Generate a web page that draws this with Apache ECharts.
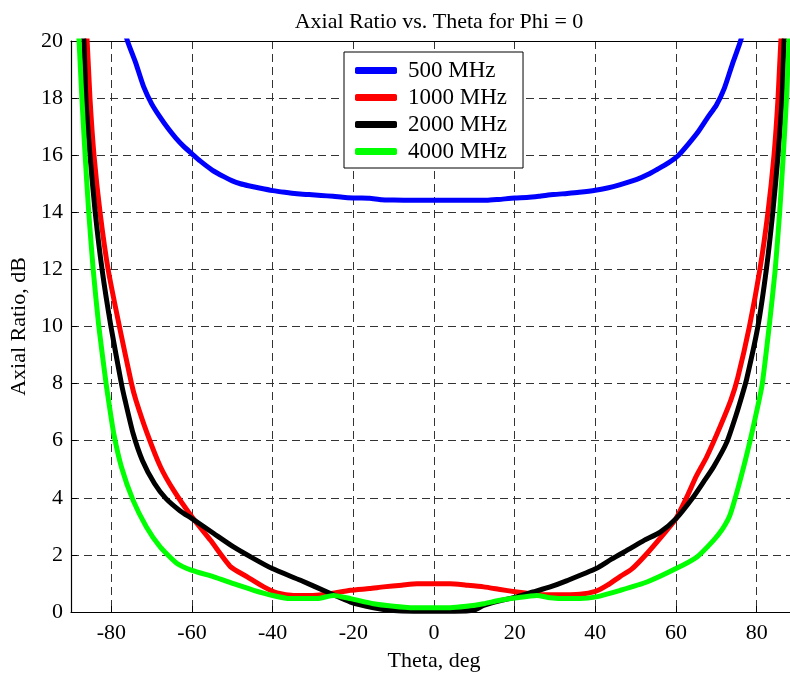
<!DOCTYPE html>
<html>
<head>
<meta charset="utf-8">
<script src="https://cdn.jsdelivr.net/npm/echarts@6/dist/echarts.min.js"></script>
<style>
html,body{margin:0;padding:0;background:#fff;}
#chart{width:790px;height:677px;}
</style>
</head>
<body>
<div id="chart"></div>
<script>
// ---- data ----
const titleText = 'Axial Ratio vs. Theta for Phi = 0';
const xName = 'Theta, deg';
const yName = 'Axial Ratio, dB';
const seriesNames = ['500 MHz', '1000 MHz', '2000 MHz', '4000 MHz'];
const seriesColors = ['#0000ff', '#ff0000', '#000000', '#00ff00'];
const xTicks = [-80, -60, -40, -20, 0, 20, 40, 60, 80];

const theta500 = [-77.5, -76, -74, -72, -70, -68, -66, -64, -62, -60, -58, -55, -52, -50, -48, -46, -43, -40, -37, -34, -31, -28, -25, -22, -19, -16, -13, -10, -5, 0, 5, 10, 13, 16, 20, 23, 26, 29.6, 33, 36, 40, 43, 46, 50.3, 53, 55.3, 58, 60.5, 63, 65.5, 68, 70, 72, 74, 76, 77.5];
const ar500 = [20.8, 20.0, 19.25, 18.4, 17.8, 17.35, 16.95, 16.6, 16.3, 16.05, 15.8, 15.48, 15.24, 15.1, 15.0, 14.93, 14.84, 14.76, 14.7, 14.65, 14.62, 14.59, 14.56, 14.52, 14.5, 14.49, 14.44, 14.43, 14.42, 14.42, 14.42, 14.42, 14.42, 14.45, 14.5, 14.52, 14.56, 14.62, 14.66, 14.7, 14.77, 14.85, 14.96, 15.15, 15.32, 15.5, 15.72, 15.98, 16.38, 16.82, 17.35, 17.75, 18.35, 19.2, 20.0, 20.8];

const theta1000 = [-88, -86.0, -85.3, -84.3, -82.8, -80.8, -78.0, -75.0, -73.9, -71.1, -67.8, -64.5, -60, -55.4, -50.4, -46.3, -42.2, -38.9, -34.8, -30, -26.5, -20.7, -16, -12.5, -8, -4.2, 0, 4, 8, 12.3, 16, 20.5, 24, 27.2, 30, 36.2, 40, 43, 46.2, 49, 52.8, 57.7, 60, 62.7, 65, 67.6, 70.9, 73.6, 75.3, 78.2, 80.8, 82.8, 84.3, 85.3, 86.0, 88];
const ar1000 = [24, 20, 18, 16, 14, 12, 10, 8, 7.42, 6.25, 5.08, 4.25, 3.33, 2.51, 1.58, 1.23, 0.88, 0.67, 0.58, 0.58, 0.62, 0.76, 0.82, 0.88, 0.94, 0.99, 0.99, 0.99, 0.94, 0.88, 0.8, 0.70, 0.64, 0.6, 0.6, 0.62, 0.72, 0.94, 1.25, 1.5, 2.05, 2.86, 3.27, 4.03, 4.75, 5.43, 6.48, 7.42, 8.2, 10, 12, 14, 16, 18, 20, 24];

const theta2000 = [-88.5, -86.8, -86.3, -85.3, -84.0, -82.3, -80.1, -77.5, -76.6, -74.6, -72.3, -69.3, -66.5, -63, -60, -54.6, -49.7, -44.7, -40.1, -33.1, -26.5, -20.7, -15, -10, -5, 0, 5, 10, 12.3, 16, 20.5, 24.5, 28.8, 33, 40.2, 44, 48.6, 52, 56.1, 60, 64.3, 66.8, 69.3, 72.6, 74.9, 76.3, 77.5, 80.3, 82.4, 84.0, 85.3, 86.3, 86.8, 88.5];
const ar2000 = [24, 20, 18, 16, 14, 12, 10, 8, 7.42, 6.25, 5.31, 4.5, 3.98, 3.55, 3.27, 2.75, 2.28, 1.87, 1.52, 1.11, 0.70, 0.35, 0.15, 0.05, 0.03, 0.03, 0.03, 0.07, 0.23, 0.38, 0.53, 0.7, 0.88, 1.1, 1.52, 1.85, 2.22, 2.5, 2.8, 3.27, 4.03, 4.55, 5.08, 5.95, 6.9, 7.55, 8.15, 10, 12, 14, 16, 18, 20, 24];

const theta4000 = [-89.5, -88.0, -87.3, -86.5, -85.6, -84.5, -83.1, -81.3, -80.7, -79.4, -77.5, -74.6, -71.3, -67.9, -63.7, -60, -54.6, -49.7, -44.7, -40, -35.6, -29, -24.9, -20.7, -15, -10, -5.9, 0, 4, 8, 12.3, 16, 20.5, 25.5, 28.8, 33, 36.2, 40.2, 46.2, 52.8, 60, 65.2, 69.3, 71.5, 73.4, 75.9, 78.4, 80.6, 81.4, 83.1, 84.6, 85.7, 86.6, 87.4, 88.0, 89.5];
const ar4000 = [24, 20, 18, 16, 14, 12, 10, 8, 7.42, 6.25, 5.08, 3.91, 2.98, 2.28, 1.70, 1.46, 1.23, 0.99, 0.76, 0.58, 0.47, 0.47, 0.58, 0.47, 0.29, 0.2, 0.15, 0.15, 0.15, 0.2, 0.29, 0.4, 0.5, 0.58, 0.5, 0.47, 0.47, 0.53, 0.76, 1.05, 1.52, 1.93, 2.51, 2.9, 3.4, 4.61, 6.01, 7.42, 8, 10, 12, 14, 16, 18, 20, 24];

const thetas = [theta500, theta1000, theta2000, theta4000];
const values = [ar500, ar1000, ar2000, ar4000];

// ---- chart ----
const FONT = '"Liberation Serif", "Times New Roman", serif';
const chart = echarts.init(document.getElementById('chart'), null, {renderer: 'canvas'});
const gridDash = {type: [8, 5], color: '#333', width: 1};

const series = seriesNames.map((name, i) => ({
  name: name,
  type: 'line',
  data: thetas[i].map((t, k) => [t, values[i][k]]),
  showSymbol: false,
  symbol: 'none',
  smooth: 0.2,
  clip: true,
  lineStyle: {color: seriesColors[i], width: 5, cap: 'round', join: 'round'},
  itemStyle: {color: seriesColors[i]},
  z: 3 + i,
  animation: false
}));

chart.setOption({
  animation: false,
  backgroundColor: '#fff',
  title: {
    text: titleText,
    left: 434, top: 6, textAlign: 'center',
    textStyle: {fontFamily: FONT, fontSize: 22, fontWeight: 'normal', color: '#000'}
  },
  legend: {
    data: seriesNames,
    orient: 'vertical',
    left: 344, top: 52,
    padding: [7, 16, 5, 11],
    itemGap: 4,
    itemWidth: 42, itemHeight: 7,
    icon: 'roundRect',
    borderColor: '#000', borderWidth: 1,
    backgroundColor: '#fff',
    textStyle: {fontFamily: FONT, fontSize: 23, color: '#000', lineHeight: 23, padding: [0, 0, 0, 6]}
  },
  grid: {left: 71, top: 41, width: 726, height: 571, containLabel: false, outerBoundsMode: 'none'},
  xAxis: [{
    type: 'value', min: -90, max: 90,
    name: xName, nameLocation: 'middle', nameGap: 38,
    nameTextStyle: {fontFamily: FONT, fontSize: 22, color: '#000'},
    axisLine: {show: true, onZero: false, lineStyle: {color: '#000', width: 1.2}},
    axisTick: {show: true, inside: true, length: 6, customValues: xTicks, lineStyle: {color: '#000'}},
    axisLabel: {customValues: xTicks, fontFamily: FONT, fontSize: 22, color: '#000', margin: 10},
    splitLine: {show: true, lineStyle: gridDash}
  }, {
    type: 'value', min: -90, max: 90, position: 'top',
    axisLine: {show: true, onZero: false, lineStyle: {color: '#000', width: 1.2}},
    axisTick: {show: false}, axisLabel: {show: false}, splitLine: {show: false}
  }],
  yAxis: [{
    type: 'value', min: 0, max: 20, interval: 2,
    name: yName, nameLocation: 'middle', nameGap: 36, nameRotate: 90,
    nameTextStyle: {fontFamily: FONT, fontSize: 22, color: '#000'},
    axisLine: {show: true, onZero: false, lineStyle: {color: '#000', width: 1.2}},
    axisTick: {show: true, inside: true, length: 6, lineStyle: {color: '#000'}},
    axisLabel: {fontFamily: FONT, fontSize: 22, color: '#000', margin: 8},
    splitLine: {show: true, lineStyle: gridDash}
  }],
  series: series
});
</script>
</body>
</html>
